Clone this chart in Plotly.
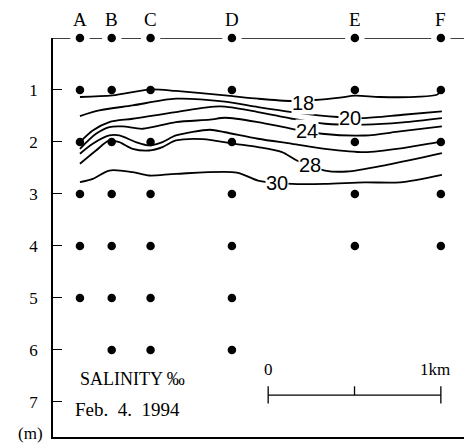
import plotly.graph_objects as go

# Stations (km along section) and sampled depths (m)
stations = ["A", "B", "C", "D", "E", "F"]
station_km = [0.00, 0.184, 0.409, 0.880, 1.592, 2.090]
sample_depths = {
    "A": [0, 1, 2, 3, 4, 5],
    "B": [0, 1, 2, 3, 4, 5, 6],
    "C": [0, 1, 2, 3, 4, 5, 6],
    "D": [0, 1, 2, 3, 4, 5, 6],
    "E": [0, 1, 2, 3, 4],
    "F": [0, 1, 2, 3, 4],
}

# Isohalines (salinity, per mille): position (km) and depth (m)
iso_levels = [18, 20, 22, 24, 26, 28, 30]
iso_x = {
    18: [0.00, 0.189, 0.411, 0.556, 0.840, 1.031, 1.228, 1.361, 1.505, 1.592, 1.737, 1.969, 2.067, 2.090],
    20: [0.00, 0.112, 0.305, 0.556, 0.840, 1.031, 1.228, 1.494, 1.639, 1.870, 2.096],
    22: [0.00, 0.074, 0.170, 0.305, 0.556, 0.811, 1.031, 1.228, 1.419, 1.650, 1.870, 2.096],
    24: [0.00, 0.093, 0.170, 0.247, 0.363, 0.556, 0.753, 0.840, 1.031, 1.228, 1.401, 1.650, 1.853, 2.096],
    26: [0.00, 0.074, 0.170, 0.228, 0.324, 0.401, 0.478, 0.556, 0.753, 0.840, 1.031, 1.228, 1.419, 1.650, 1.870, 2.044, 2.096],
    28: [0.00, 0.093, 0.170, 0.228, 0.305, 0.401, 0.478, 0.556, 0.712, 0.897, 1.031, 1.170, 1.256, 1.419, 1.546, 1.778, 2.096],
    30: [0.00, 0.074, 0.170, 0.305, 0.401, 0.556, 0.909, 1.031, 1.228, 1.419, 1.650, 1.853, 2.096],
}
iso_depth = {
    18: [1.135, 1.104, 0.988, 1.019, 1.104, 1.168, 1.212, 1.193, 1.148, 1.110, 1.135, 1.129, 1.091, 1.033],
    20: [1.501, 1.393, 1.297, 1.168, 1.225, 1.328, 1.424, 1.520, 1.540, 1.476, 1.412],
    22: [2.002, 1.778, 1.617, 1.553, 1.424, 1.316, 1.424, 1.553, 1.649, 1.668, 1.624, 1.540],
    24: [2.131, 1.842, 1.713, 1.701, 1.746, 1.617, 1.572, 1.534, 1.617, 1.746, 1.842, 1.875, 1.798, 1.701],
    26: [2.227, 2.035, 1.875, 1.875, 2.002, 2.067, 2.002, 1.875, 1.765, 1.813, 1.938, 2.035, 2.131, 2.195, 2.118, 2.021, 1.990],
    28: [2.420, 2.164, 1.971, 2.002, 2.131, 2.164, 2.098, 1.971, 1.944, 2.035, 2.098, 2.195, 2.356, 2.549, 2.568, 2.439, 2.214],
    30: [2.773, 2.709, 2.549, 2.580, 2.645, 2.613, 2.588, 2.742, 2.805, 2.805, 2.777, 2.777, 2.632],
}
# Contour label placement (km, depth)
label_levels = [18, 20, 24, 28, 30]
label_x = [1.291, 1.563, 1.314, 1.332, 1.141]
label_depth = [1.254, 1.543, 1.784, 2.449, 2.786]

depth_ticks = [1, 2, 3, 4, 5, 6, 7]

X_RANGE = [-0.156, 2.224]
Y_RANGE = [7.675, 0]

SERIF = "Liberation Serif, serif"
SANS = "Liberation Sans Narrow, Liberation Sans, Arial, sans-serif"

fig = go.Figure()

# Isohalines
for lev in iso_levels:
    fig.add_trace(go.Scatter(
        x=iso_x[lev], y=iso_depth[lev], mode="lines",
        line=dict(color="black", width=1.8, shape="spline", smoothing=0.8),
        hoverinfo="skip", showlegend=False))

# Surface line with gaps around station dots
gap = 0.056
pts = [X_RANGE[0]] + station_km + [X_RANGE[1]]
sx, sy = [], []
for i in range(len(pts) - 1):
    a = pts[i] + (gap if i > 0 else 0)
    b = pts[i + 1] - (gap if i + 1 < len(pts) - 1 else 0)
    sx += [a, b, None]
    sy += [0, 0, None]
fig.add_trace(go.Scatter(x=sx, y=sy, mode="lines", line=dict(color="black", width=1.5),
                         hoverinfo="skip", showlegend=False, cliponaxis=False))

# Sampling points
px, py = [], []
for s, xk in zip(stations, station_km):
    for d in sample_depths[s]:
        px.append(xk)
        py.append(d)
fig.add_trace(go.Scatter(x=px, y=py, mode="markers",
                         marker=dict(color="black", size=8.5),
                         hoverinfo="skip", showlegend=False, cliponaxis=False))

# Scale bar (1 km ending at station F)
bar_end = station_km[-1]
bar_start = bar_end - 1.0
bar_mid = bar_end - 0.5
bar_d = 6.87
fig.add_trace(go.Scatter(
    x=[bar_start, bar_end, None, bar_start, bar_start, None, bar_end, bar_end, None, bar_mid, bar_mid],
    y=[bar_d, bar_d, None, 6.70, 7.03, None, 6.70, 7.03, None, 6.70, bar_d],
    mode="lines", line=dict(color="black", width=1.3), hoverinfo="skip", showlegend=False))

annotations = []
for s, xk in zip(stations, station_km):
    annotations.append(dict(x=xk, y=1, xref="x", yref="paper", yshift=19, text=s,
                            showarrow=False, font=dict(family=SERIF, size=19, color="black"),
                            xanchor="center", yanchor="middle"))
for lev, lx, ld in zip(label_levels, label_x, label_depth):
    annotations.append(dict(x=lx, y=ld, xref="x", yref="y", text=str(lev), showarrow=False,
                            font=dict(family=SANS, size=20, color="black"),
                            bgcolor="white", borderpad=0, xanchor="center", yanchor="middle"))
annotations += [
    dict(x=0.307, y=6.56, xref="x", yref="y", text="SALINITY ‰", showarrow=False,
         font=dict(family=SERIF, size=18, color="black"), xanchor="center", yanchor="middle"),
    dict(x=0.275, y=7.14, xref="x", yref="y", text="Feb.&nbsp; 4.&nbsp; 1994", showarrow=False,
         font=dict(family=SERIF, size=19, color="black"), xanchor="center", yanchor="middle"),
    dict(x=bar_start, y=6.37, xref="x", yref="y", text="0", showarrow=False,
         font=dict(family=SERIF, size=17, color="black"), xanchor="center", yanchor="middle"),
    dict(x=bar_end - 0.035, y=6.37, xref="x", yref="y", text="1km", showarrow=False,
         font=dict(family=SERIF, size=17, color="black"), xanchor="center", yanchor="middle"),
    dict(x=0, y=0, xref="paper", yref="paper", xshift=-23, yshift=4, text="(m)", showarrow=False,
         font=dict(family=SERIF, size=17, color="black"), xanchor="center", yanchor="middle"),
]

fig.update_layout(
    width=464, height=443,
    margin=dict(l=53, r=0, t=38, b=6),
    paper_bgcolor="white", plot_bgcolor="white",
    annotations=annotations,
    xaxis=dict(range=X_RANGE, showgrid=False, zeroline=False, showticklabels=False,
               ticks="", showline=True, linecolor="black", linewidth=1.6, mirror=False),
    yaxis=dict(range=Y_RANGE, showgrid=False, zeroline=False,
               tickvals=depth_ticks, ticktext=[str(t) for t in depth_ticks],
               ticks="inside", ticklen=9, tickwidth=1.3, tickcolor="black",
               ticklabelstandoff=10,
               tickfont=dict(family=SERIF, size=17, color="black"),
               showline=True, linecolor="black", linewidth=1.6),
)

fig.write_html("out.html")
